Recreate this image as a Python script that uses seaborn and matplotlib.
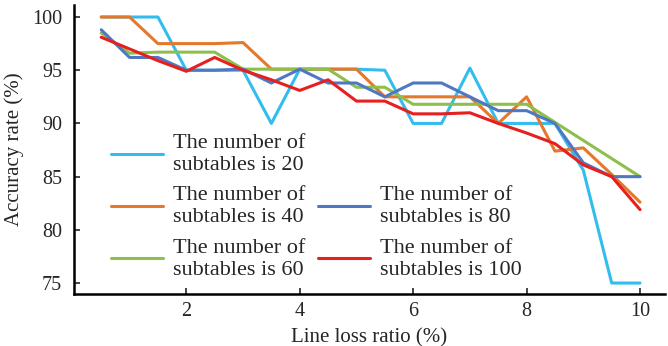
import matplotlib
matplotlib.use("Agg")
import matplotlib.pyplot as plt
from matplotlib.lines import Line2D
import seaborn as sns
import pandas as pd

x = [0.5, 1.0, 1.5, 2.0, 2.5, 3.0, 3.5, 4.0, 4.5, 5.0,
     5.5, 6.0, 6.5, 7.0, 7.5, 8.0, 8.5, 9.0, 9.5, 10.0]

s20 = [100, 100, 100, 95.0, 95.0, 95.0, 90.0, 95.1, 95.1, 95.1,
       95.0, 90.0, 90.0, 95.2, 90.0, 90.0, 90.0, 85.6, 75.0, 75.0]
s40 = [100, 100, 97.5, 97.5, 97.5, 97.6, 95.1, 95.1, 95.1, 95.1,
       92.5, 92.5, 92.5, 92.5, 90.0, 92.5, 87.4, 87.7, 85.2, 82.6]
s60 = [98.5, 96.6, 96.7, 96.7, 96.7, 95.1, 95.1, 95.1, 95.1, 93.4,
       93.4, 91.8, 91.8, 91.8, 91.8, 91.8, 90.1, 88.4, 86.7, 85.0]
s80 = [98.8, 96.2, 96.2, 95.0, 95.0, 95.1, 93.8, 95.1, 93.8, 93.8,
       92.5, 93.8, 93.8, 92.5, 91.2, 91.2, 90.0, 86.3, 85.0, 85.0]
s100 = [98.1, 97.0, 95.9, 94.9, 96.2, 95.0, 94.1, 93.1, 94.1, 92.1,
        92.1, 90.9, 90.9, 91.0, 90.0, 89.1, 88.1, 86.1, 85.0, 81.9]

labels = ["The number of\nsubtables is 20",
          "The number of\nsubtables is 40",
          "The number of\nsubtables is 60",
          "The number of\nsubtables is 80",
          "The number of\nsubtables is 100"]
colors = ["#33BDEE", "#E5782A", "#8CC04A", "#4E79C2", "#E5201F"]
series = [s20, s40, s60, s80, s100]

sns.set_style("ticks")
plt.rcParams["font.family"] = ["Liberation Serif", "DejaVu Serif"]
plt.rcParams["font.size"] = 14.5

fig = plt.figure(figsize=(6.68, 3.46), dpi=100)
ax = fig.add_axes([74 / 668, 1 - 294 / 346, (665 - 74) / 668, (294 - 5) / 346])

handles = []
for lab, col, s in zip(labels, colors, series):
    df = pd.DataFrame({"x": x, "y": s})
    sns.lineplot(data=df, x="x", y="y", ax=ax, color=col, linewidth=2.2)
    handles.append(Line2D([], [], color=col, linewidth=2.2))

ax.set_xlim(0.02, 10.44)
ax.set_ylim(73.97, 101.13)
ax.set_xticks([2, 4, 6, 8, 10])
ax.set_yticks([75, 80, 85, 90, 95, 100])
ax.set_xlabel("Line loss ratio (%)", fontsize=15, labelpad=5)
ax.set_ylabel("Accuracy rate (%)", fontsize=15, labelpad=6)
ax.tick_params(direction="in", length=4, width=1.2, labelsize=14.5, pad=6)
ax.tick_params(axis="y", pad=8.5)
for sp in ["top", "right"]:
    ax.spines[sp].set_visible(False)
for sp in ["left", "bottom"]:
    ax.spines[sp].set_linewidth(1.8)
    ax.spines[sp].set_color("black")

blank = Line2D([], [], color="none")
leg_handles = handles[:3] + [blank] + handles[3:]
leg_labels = labels[:3] + [" \n "] + labels[3:]
ax.legend(leg_handles, leg_labels, ncol=2, frameon=False,
          loc="upper left", bbox_to_anchor=(111 / 668, 1 - 134 / 346),
          bbox_transform=fig.transFigure, borderpad=0, borderaxespad=0,
          handlelength=2.35, handletextpad=0.45, columnspacing=0.55,
          labelspacing=0.52, fontsize=16)

fig.savefig("out.png", dpi=100)
